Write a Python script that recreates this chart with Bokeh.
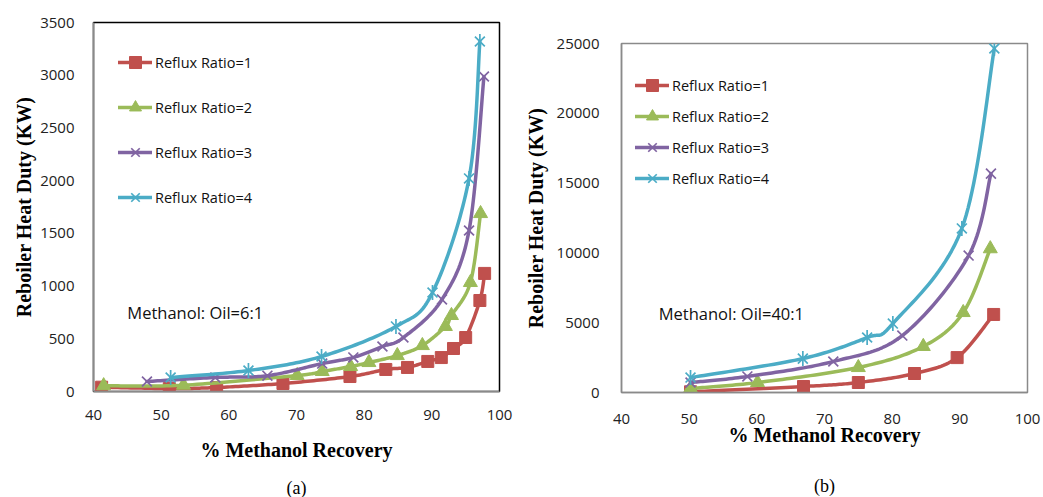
import numpy as np
from bokeh.plotting import figure
from bokeh.layouts import row, column
from bokeh.models import (Range1d, SingleIntervalTicker, Legend, LegendItem, Label, Title)
from bokeh.embed import file_html
from bokeh.resources import INLINE

# ---------------- data: Methanol:Oil = 6:1 ----------------
a_r1_x = [41.2, 51.2, 58.2, 68.0, 77.9, 83.2, 86.4, 89.4, 91.4, 93.2, 95.0, 97.1, 97.8]
a_r1_y = [41, 28, 38, 76, 142, 209, 228, 285, 322, 408, 512, 863, 1120]
a_r2_x = [41.5, 53.3, 70.1, 73.8, 78.0, 80.7, 84.9, 88.6, 92.0, 92.9, 95.7, 97.2]
a_r2_y = [55, 60, 152, 190, 237, 275, 341, 436, 617, 721, 1034, 1688]
a_r3_x = [47.9, 58.0, 65.7, 73.8, 78.4, 82.7, 85.8, 91.5, 95.5, 97.7]
a_r3_y = [95, 133, 150, 265, 323, 427, 512, 873, 1527, 2988]
a_r4_x = [51.4, 62.9, 73.7, 84.7, 90.1, 95.5, 97.1]
a_r4_y = [133, 199, 332, 617, 939, 2021, 3320]

# ---------------- data: Methanol:Oil = 40:1 ----------------
b_r1_x = [50.2, 66.9, 75.0, 83.3, 89.6, 95.0]
b_r1_y = [50, 430, 716, 1360, 2500, 5590]
b_r2_x = [50.2, 60.1, 75.0, 84.6, 90.5, 94.5]
b_r2_y = [290, 716, 1790, 3300, 5730, 10300]
b_r3_x = [50.2, 58.6, 71.3, 81.5, 91.3, 94.6]
b_r3_y = [716, 1150, 2220, 4080, 9810, 15680]
b_r4_x = [50.2, 66.8, 76.3, 80.1, 90.3, 95.1]
b_r4_y = [1070, 2430, 3940, 4940, 11750, 24640]

labels = ["Reflux Ratio=1", "Reflux Ratio=2", "Reflux Ratio=3", "Reflux Ratio=4"]
colors = ["#C0504D", "#9BBB59", "#8064A2", "#4BACC6"]

x_ticks_interval = 10
SANS = "Open Sans"
SERIF = "Liberation Serif"


def smooth(xs, ys, n=24):
    x = np.asarray(xs, float)
    y = np.asarray(ys, float)
    px = np.concatenate([[x[0]], x, [x[-1]]])
    py = np.concatenate([[y[0]], y, [y[-1]]])
    t = np.linspace(0, 1, n)
    ox, oy = [], []
    for i in range(len(x) - 1):
        p0 = np.array([px[i], py[i]])
        p1 = np.array([px[i + 1], py[i + 1]])
        p2 = np.array([px[i + 2], py[i + 2]])
        p3 = np.array([px[i + 3], py[i + 3]])
        c1 = p1 + (p2 - p0) / 6.0
        c2 = p2 - (p3 - p1) / 6.0
        b = ((1 - t) ** 3)[:, None] * p1 + (3 * (1 - t) ** 2 * t)[:, None] * c1 \
            + (3 * (1 - t) * t ** 2)[:, None] * c2 + (t ** 3)[:, None] * p2
        ox.extend(b[:, 0].tolist())
        oy.extend(b[:, 1].tolist())
    return ox, oy


def make_fig(series, ymax, yint, left, right, top, fh, outline, note, note_xy,
             legend_loc, legend_spacing, caption, xtick_standoff, xlabel_standoff,
             ytick_standoff, ylabel_standoff, cap_standoff):
    p = figure(frame_width=406, frame_height=fh, min_border_left=left,
               min_border_right=right, min_border_top=top, min_border_bottom=497 - top - fh,
               x_range=Range1d(40, 100), y_range=Range1d(0, ymax),
               output_backend="svg", toolbar_location=None, title=None)
    p.grid.visible = False
    p.outline_line_color = outline
    p.outline_line_width = 1.5
    p.background_fill_color = "white"
    p.border_fill_color = "white"

    p.xaxis.ticker = SingleIntervalTicker(interval=x_ticks_interval)
    p.yaxis.ticker = SingleIntervalTicker(interval=yint)
    for ax in (p.xaxis[0], p.yaxis[0]):
        ax.axis_line_color = "#8a8a8a"
        ax.axis_line_width = 1.5
        ax.major_tick_line_color = None
        ax.minor_tick_line_color = None
        ax.major_label_text_font = SANS
        ax.major_label_text_font_size = "15px"
        ax.major_label_text_color = "#222222"
        ax.axis_label_text_font = SERIF
        ax.axis_label_text_font_style = "bold"
        ax.axis_label_text_font_size = "20px"
        ax.axis_label_text_color = "black"
    p.xaxis.axis_label = "% Methanol Recovery"
    p.yaxis.axis_label = "Reboiler Heat Duty (KW)"
    p.xaxis.major_label_standoff = xtick_standoff
    p.yaxis.major_label_standoff = ytick_standoff
    p.xaxis.axis_label_standoff = xlabel_standoff
    p.yaxis.axis_label_standoff = ylabel_standoff

    items = []
    for k, (xs, ys) in enumerate(series):
        c = colors[k]
        sx, sy = smooth(xs, ys)
        ln = p.line(sx, sy, line_color=c, line_width=3.5, line_cap="round", line_join="round")
        rs = [ln]
        if k == 0:
            rs.append(p.scatter(xs, ys, marker="square", size=12, fill_color=c, line_color=c))
        elif k == 1:
            rs.append(p.scatter(xs, ys, marker="triangle", size=14, fill_color=c, line_color=c))
        elif k == 2:
            rs.append(p.scatter(xs, ys, marker="x", size=14, line_color=c, line_width=1.7))
        else:
            rs.append(p.scatter(xs, ys, marker="x", size=14, line_color=c, line_width=1.7))
            rs.append(p.scatter(xs, ys, marker="dash", size=15, angle=np.pi / 2,
                                line_color=c, line_width=1.7))
        items.append(LegendItem(label=labels[k], renderers=rs))

    leg = Legend(items=items, location=legend_loc, margin=0, padding=0,
                 spacing=legend_spacing, glyph_width=34, glyph_height=30, label_height=30,
                 label_standoff=3, border_line_color=None, background_fill_alpha=0,
                 label_text_font=SANS, label_text_font_size="14.5px",
                 label_text_color="#111111")
    p.add_layout(leg, "center")

    p.add_layout(Label(x=note_xy[0], y=note_xy[1], text=note, text_font=SANS,
                       text_font_size="16.5px", text_baseline="middle", text_color="#111111"))

    p.add_layout(Title(text=caption, align="center", text_font=SERIF,
                       text_font_size="18px", text_font_style="normal",
                       text_color="black", standoff=cap_standoff), "below")
    return p


p1 = make_fig([(a_r1_x, a_r1_y), (a_r2_x, a_r2_y), (a_r3_x, a_r3_y), (a_r4_x, a_r4_y)],
              3500, 500, 93, 21, 22, 369, "black", "Methanol: Oil=6:1", (45.0, 749),
              (25, 179), 15, "(a)", 12, 16, 13, 2, 24)
p2 = make_fig([(b_r1_x, b_r1_y), (b_r2_x, b_r2_y), (b_r3_x, b_r3_y), (b_r4_x, b_r4_y)],
              25000, 5000, 101, 16, 43, 349, "#8a8a8a", "Methanol: Oil=40:1", (45.5, 5659),
              (14, 199), 1, "(b)", 15, -3, 16, 7, 50)

layout = row(column(p1), column(p2), spacing=0)
open("out.html", "w").write(file_html(layout, INLINE))
